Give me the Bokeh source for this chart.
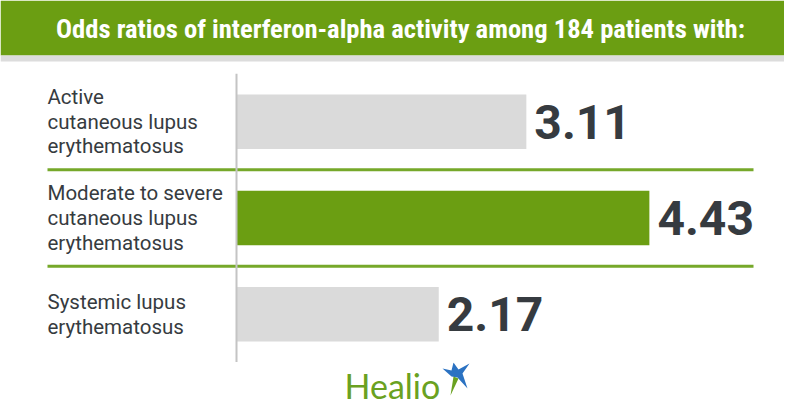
from bokeh.plotting import figure
from bokeh.layouts import column
from bokeh.models import Range1d, FactorRange, Span, ColumnDataSource
from bokeh.core.properties import value
from bokeh.embed import file_html
from bokeh.resources import INLINE

# ---- data ----
title_text = "Odds ratios of interferon-alpha activity among 184 patients with:"
categories = [
    "Active\ncutaneous lupus\nerythematosus",
    "Moderate to severe\ncutaneous lupus\nerythematosus",
    "Systemic lupus\nerythematosus",
]
odds_ratios = [3.11, 4.43, 2.17]
value_labels = ["3.11", "4.43", "2.17"]
bar_colors = ["#dadada", "#6b9e12", "#dadada"]

GREEN = "#6b9e12"
DARK = "#363b40"
W = 784
PX_PER_UNIT = 93.2
ZERO_PX = 236


def base(h, xr, yr):
    p = figure(width=W, height=h, x_range=xr, y_range=yr,
               output_backend="svg", toolbar_location=None,
               x_axis_location=None, y_axis_location=None,
               min_border=0, outline_line_color=None,
               background_fill_color="white", border_fill_color="white")
    p.grid.visible = False
    return p


# ---- header ----
HH = 73
h = base(HH, Range1d(0, W), Range1d(HH, 0))
h.quad(left=0, right=W, top=0, bottom=55, color=GREEN, line_color=None)
h.quad(left=0, right=W, top=55, bottom=61, color="#dcdcdc", line_color=None)
h.text(x=[400], y=[28], text=[title_text], text_align="center",
       text_baseline="alphabetic", text_color="white",
       text_font=value("Roboto Condensed"), text_font_style="bold",
       text_font_size="26.6px")

# ---- chart ----
CH = 289
xr = Range1d(-ZERO_PX / PX_PER_UNIT, (W - ZERO_PX) / PX_PER_UNIT)
yr = FactorRange(factors=categories[::-1])
p = base(CH, xr, yr)

src = ColumnDataSource(dict(cat=categories, val=odds_ratios,
                            lab=value_labels, col=bar_colors))
p.hbar(y="cat", left=0, right="val", height=0.565, color="col",
       line_color=None, source=src)
p.add_layout(Span(location=0, dimension="height", line_color="#c4c4c4",
                  line_width=2))

label_x = (47 - ZERO_PX) / PX_PER_UNIT
sep_x1 = (753 - ZERO_PX) / PX_PER_UNIT
mid = categories[1]
p.segment(x0=[label_x, label_x], x1=[sep_x1, sep_x1],
          y0=[(mid, 0.5), (mid, -0.5)], y1=[(mid, 0.5), (mid, -0.5)],
          line_color="#76a82a", line_width=3)

p.text(x=label_x, y="cat", text="cat", source=src,
       text_font=value("Roboto"), text_font_size="20.5px",
       text_color=DARK, text_baseline="middle", text_align="left",
       text_line_height=1.03)
p.text(x="val", y="cat", text="lab", source=src, x_offset=8,
       text_font=value("Roboto"), text_font_style="bold",
       text_font_size="48px", text_color=DARK, text_baseline="middle",
       text_align="left")

# ---- footer (logo) ----
FH = 404 - HH - CH
f = base(FH, Range1d(0, W), Range1d(FH, 0))
f.text(x=[344], y=[22.5], text=["Healio"], text_font=value("Lato"),
       text_font_size="34px", text_color="#6aa121",
       text_baseline="alphabetic", text_align="left")
star_x = [442, 451, 453, 458, 469, 462, 467, 457, 451]
star_y = [6, 8, 0, 7, 1, 11, 26, 15, 14]
f.patch(star_x, star_y, color="#2b72c2", line_color=None)
f.patch([453, 458, 450], [14, 16, 33], color="#6aa121", line_color=None)

layout = column(h, p, f, spacing=0)
open("out.html", "w").write(file_html(layout, INLINE))
